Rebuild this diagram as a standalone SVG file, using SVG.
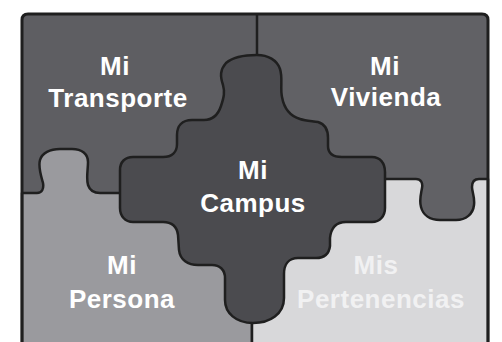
<svg xmlns="http://www.w3.org/2000/svg" width="502" height="342" viewBox="0 0 502 342">
<style>
.piece{stroke:#1f1f1f;stroke-width:2.5;stroke-linejoin:round}
.lbl{font-family:"Liberation Sans",Arial,sans-serif;font-weight:bold;font-size:26px;letter-spacing:0.5px;text-anchor:middle;fill:#ffffff}
.faint{fill:#f1f1f2}
</style>
<rect width="502" height="342" fill="#ffffff"/>
<g id="transporte">
<path d="M28,14 H258 V205 H22 V20 Q22,14 28,14 Z" fill="#5e5e62"/>
<text class="lbl" x="115" y="75">Mi</text>
<text class="lbl" x="118" y="107">Transporte</text>
</g>
<g id="vivienda">
<path d="M256,14 H482 Q488,14 488,20 V235 H256 Z" fill="#616165"/>
<text class="lbl" x="385" y="75">Mi</text>
<text class="lbl" x="386" y="106">Vivienda</text>
</g>
<g id="persona">
<path class="piece" fill="#9a9a9e" d="M22,193 L37,193 C42,193 44,189 43,183 C41,176 38,167 40,160 C42,153 50,149 60,149 L72,149 C82,149 88,154 88,162 C88,170 86,178 88,185 C90,191 95,193 100,193 L252,193 L252,360 L22,360 Z"/>
<text class="lbl" x="122" y="274">Mi</text>
<text class="lbl" x="122" y="308">Persona</text>
</g>
<g id="pertenencias">
<path class="piece" fill="#d8d8da" d="M252,179 L416,179 C421,179 423,183 422,188 C421,194 419,200 421,207 C423,215 430,220 440,220 L456,220 C466,220 473,214 474,205 C475,197 472,192 472,187 C472,182 474,179 479,179 L488,179 L488,360 L252,360 Z"/>
<text class="lbl faint" x="376" y="274">Mis</text>
<text class="lbl faint" x="381" y="308">Pertenencias</text>
</g>
<g id="campus">
<path class="piece" fill="#4b4b4f" d="M257,55 C268,55 277,60 280,69 C283,78 280,88 282,97 C284,108 290,116 300,119 C306,121 312,121 318,122 C325,124 328,130 328,138 L328,146 C328,153 333,157 342,157 L372,157 C380,157 385,163 385,172 L385,208 C385,216 380,222 372,222 L346,222 C336,222 331,228 330,238 L330,246 C329,254 324,258 316,258 L298,258 C289,258 284,264 284,274 L284,298 C284,314 270,323 253,323 C236,323 225,313 225,300 L225,278 C225,270 220,265 212,265 L198,265 C188,265 180,260 179,250 L178,235 C177,227 172,222 163,222 L133,222 C125,222 120,216 120,208 L120,170 C120,162 125,157 133,157 L163,157 C172,157 177,152 177,144 L177,135 C177,126 182,120 192,120 L204,120 C213,120 218,115 221,106 C224,97 225,92 223,85 C220,76 220,70 226,63 C233,57 244,55 257,55 Z"/>
<text class="lbl" x="253" y="179">Mi</text>
<text class="lbl" x="253" y="212">Campus</text>
</g>
<g id="dividers" fill="none" stroke="#1f1f1f" stroke-width="2.5">
<line x1="257" y1="14" x2="257" y2="55"/>
<path d="M22,360 V20 Q22,14 28,14 H482 Q488,14 488,20 V360" stroke-width="3"/>
</g>
</svg>
